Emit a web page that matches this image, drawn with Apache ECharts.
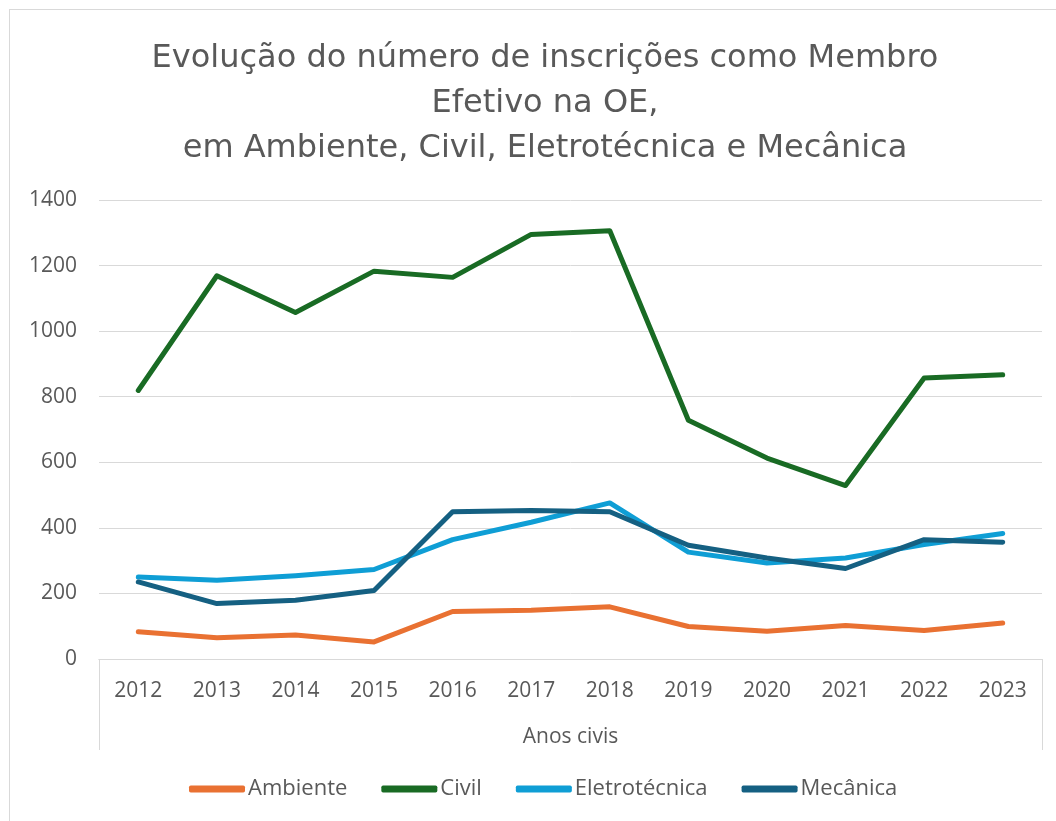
<!DOCTYPE html>
<html>
<head>
<meta charset="utf-8">
<script src="https://cdn.jsdelivr.net/npm/echarts@6/dist/echarts.min.js"></script>
<style>
  html, body { margin: 0; padding: 0; background: #fff; }
  #wrap { position: relative; width: 1056px; height: 821px; overflow: hidden; }
  #frame { position: absolute; left: 9px; top: 9px; width: 1100px; height: 900px; border: 1px solid #d9d9d9; }
  #chart { position: absolute; left: 0; top: 0; width: 1056px; height: 821px; }
</style>
</head>
<body>
<div id="wrap">
  <div id="frame"></div>
  <div id="chart"></div>
</div>
<script>
const years = ['2012', '2013', '2014', '2015', '2016', '2017', '2018', '2019', '2020', '2021', '2022', '2023'];
const ambiente = [83, 65, 73, 52, 145, 149, 159, 99, 85, 102, 87, 110];
const civil = [819, 1169, 1057, 1183, 1164, 1295, 1306, 728, 613, 529, 857, 867];
const eletrotecnica = [250, 240, 254, 273, 364, 417, 476, 326, 293, 308, 349, 383];
const mecanica = [235, 169, 179, 209, 449, 453, 449, 347, 308, 276, 364, 356];
const outerGroup = ['Anos civis'];

const font = 'Open Sans';
const grey = '#595959';

const chart = echarts.init(document.getElementById('chart'));

const mkLine = (name, data, color) => ({
  name,
  type: 'line',
  data,
  showSymbol: false,
  symbol: 'none',
  lineStyle: { color, width: 5, cap: 'round', join: 'round' },
  itemStyle: { color },
  animation: false
});

chart.setOption({
  backgroundColor: 'transparent',
  textStyle: { fontFamily: font },
  title: {
    text: 'Evolução do número de inscrições como Membro\nEfetivo na OE,\nem Ambiente, Civil, Eletrotécnica e Mecânica',
    left: 540,
    top: 31,
    textAlign: 'center',
    textStyle: { color: grey, fontSize: 32, fontWeight: 'normal', lineHeight: 45, fontFamily: 'DejaVu Sans' }
  },
  legend: {
    left: 184,
    top: 773,
    icon: 'roundRect',
    itemWidth: 56,
    itemHeight: 7,
    itemGap: 34,
    textStyle: { color: grey, fontSize: 22, fontFamily: font, padding: [0, 0, 0, -2] },
    data: ['Ambiente', 'Civil', 'Eletrotécnica', 'Mecânica']
  },
  grid: { left: 99, right: 14, top: 200, bottom: 162 },
  xAxis: [
    {
      type: 'category',
      data: years,
      boundaryGap: true,
      axisLine: { show: true, lineStyle: { color: '#d9d9d9', width: 1 } },
      axisTick: { show: false },
      axisLabel: { color: grey, fontSize: 21, margin: 22, fontFamily: font }
    },
    {
      type: 'category',
      data: outerGroup,
      position: 'bottom',
      boundaryGap: true,
      axisLine: { show: true, lineStyle: { color: '#d9d9d9', width: 1 } },
      axisTick: { show: true, length: 91, lineStyle: { color: '#d9d9d9', width: 1 } },
      axisLabel: { color: grey, fontSize: 21, margin: 68, fontFamily: font }
    }
  ],
  yAxis: {
    type: 'value',
    min: 0,
    max: 1400,
    interval: 200,
    axisLine: { show: false },
    axisTick: { show: false },
    axisLabel: { color: grey, fontSize: 21, margin: 22, fontFamily: font, formatter: (v) => String(v) },
    splitLine: { lineStyle: { color: '#d9d9d9', width: 1 } }
  },
  series: [
    mkLine('Ambiente', ambiente, '#E97132'),
    mkLine('Civil', civil, '#196B24'),
    mkLine('Eletrotécnica', eletrotecnica, '#0F9ED5'),
    mkLine('Mecânica', mecanica, '#156082')
  ]
});
</script>
</body>
</html>
